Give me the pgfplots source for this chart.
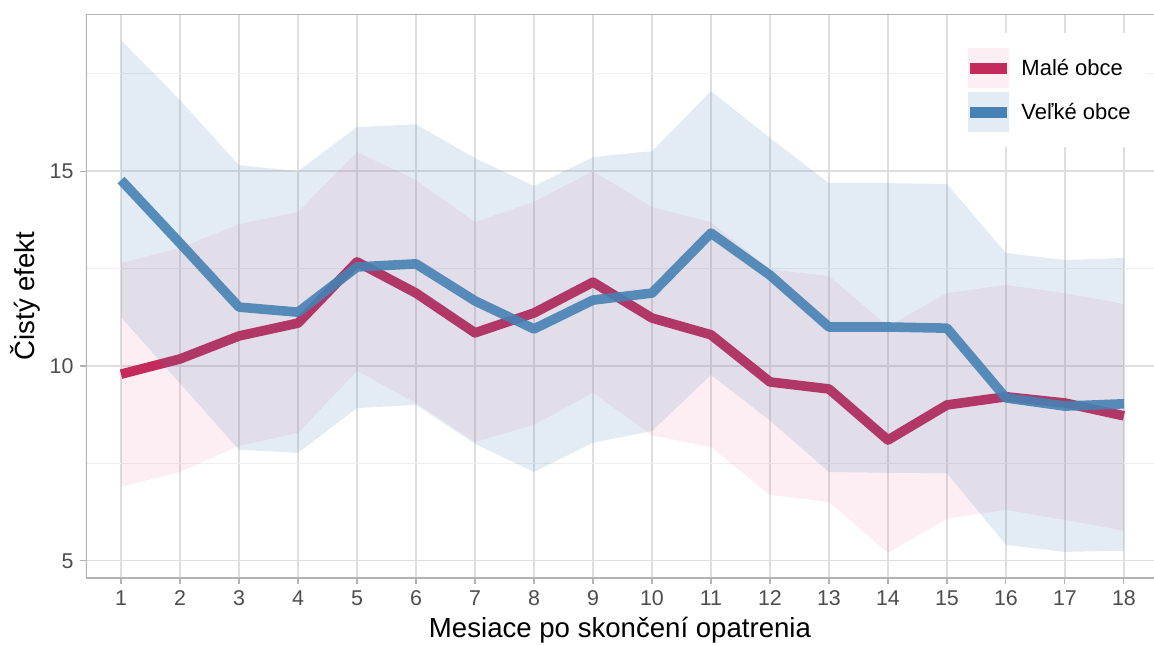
\documentclass[border=0pt]{standalone}
\usepackage{fontspec}
\setmainfont{Liberation Sans}
\usepackage{pgfplots}
\pgfplotsset{compat=1.18}
\definecolor{redline}{RGB}{196,42,90}
\definecolor{redfill}{RGB}{232,90,140}
\definecolor{blueline}{RGB}{70,130,180}
\definecolor{gridmajor}{RGB}{222,222,222}
\definecolor{gridminor}{RGB}{238,238,238}
\definecolor{axisgrey}{RGB}{179,179,179}
\definecolor{ticktext}{RGB}{77,77,77}
\definecolor{pinkbg}{RGB}{253,238,243}
\definecolor{bluebg}{RGB}{227,235,245}
\begin{document}
\begin{tikzpicture}
\begin{axis}[
  width=534pt, height=282pt, scale only axis,
  xmin=0.406, xmax=18.51, ymin=4.56, ymax=19.03,
  xtick={1,...,18}, ytick={5,10,15}, minor ytick={7.5,12.5,17.5},
  grid=both,
  major grid style={gridmajor, line width=0.6pt},
  minor grid style={gridminor, line width=0.5pt},
  axis line style={draw=none},
  tick align=outside, major tick length=2.75pt, minor tick length=0pt,
  tick style={axisgrey, line width=0.55pt},
  xtick pos=bottom, ytick pos=left,
  ticklabel style={font=\fontsize{10.7}{12}\selectfont, text=ticktext},
  /pgf/number format/assume math mode=true,
  xlabel={Mesiace po skončení opatrenia},
  ylabel={Čistý efekt},
  label style={font=\fontsize{13.8}{16}\selectfont},
  xlabel style={at={(axis description cs:0.5,-0.1046)}, anchor=base},
  ylabel style={at={(axis description cs:-0.0478,0.5)}, anchor=base},
  legend cell align=left,
  legend style={at={(0.8081,0.9663)}, anchor=north west, draw=none, fill=white,
    inner xsep=7.5pt, inner ysep=7.5pt, row sep=2pt,
    font=\fontsize{11}{13}\selectfont, nodes={inner sep=0pt},
    /tikz/every odd column/.append style={column sep=4.5pt}},
]
% red ribbon (Malé obce)
\addplot[draw=none, fill=redfill, fill opacity=0.1, forget plot] coordinates {
(1,12.64) (2,13.03) (3,13.64) (4,13.95) (5,15.49) (6,14.77) (7,13.69) (8,14.21) (9,15.00)
(10,14.08) (11,13.69) (12,12.48) (13,12.31) (14,11.02) (15,11.87) (16,12.08) (17,11.87) (18,11.59)
(18,5.77) (17,6.05) (16,6.31) (15,6.08) (14,5.20) (13,6.51) (12,6.69) (11,7.92) (10,8.22)
(9,9.31) (8,8.49) (7,8.05) (6,9.05) (5,9.87) (4,8.28) (3,7.95) (2,7.28) (1,6.90)} -- cycle;
% red line
\addplot[redline, line width=4.8pt, line join=round, line cap=butt,
  legend image code/.code={
    \path[fill=pinkbg, draw=none] (0pt,-10pt) rectangle (20.5pt,10pt);
    \draw[redline, line width=5.5pt, line cap=butt] (1pt,0pt) -- (19.5pt,0pt);}]
coordinates {
(1,9.79) (2,10.18) (3,10.77) (4,11.10) (5,12.67) (6,11.87) (7,10.85) (8,11.36) (9,12.15)
(10,11.23) (11,10.80) (12,9.59) (13,9.41) (14,8.10) (15,9.00) (16,9.21) (17,9.05) (18,8.72)};
\addlegendentry{Malé obce}
% blue ribbon (Veľké obce)
\addplot[draw=none, fill=blueline, fill opacity=0.15, forget plot] coordinates {
(1,18.36) (2,16.82) (3,15.15) (4,15.00) (5,16.13) (6,16.20) (7,15.33) (8,14.62) (9,15.36)
(10,15.51) (11,17.05) (12,15.85) (13,14.69) (14,14.69) (15,14.67) (16,12.90) (17,12.72) (18,12.77)
(18,5.26) (17,5.23) (16,5.41) (15,7.25) (14,7.26) (13,7.28) (12,8.60) (11,9.77) (10,8.33)
(9,8.03) (8,7.28) (7,8.00) (6,9.00) (5,8.92) (4,7.77) (3,7.85) (2,9.55) (1,11.25)} -- cycle;
% blue line
\addplot[blueline, draw opacity=0.9, line width=4.8pt, line join=round, line cap=butt,
  legend image code/.code={
    \path[fill=bluebg, draw=none] (0pt,-10pt) rectangle (20.5pt,10pt);
    \draw[blueline, draw opacity=1, line width=5.5pt, line cap=butt] (1pt,0pt) -- (19.5pt,0pt);}]
coordinates {
(1,14.77) (2,13.15) (3,11.51) (4,11.38) (5,12.54) (6,12.62) (7,11.67) (8,10.95) (9,11.69)
(10,11.87) (11,13.41) (12,12.33) (13,11.00) (14,11.00) (15,10.97) (16,9.18) (17,8.97) (18,9.03)};
\addlegendentry{Veľké obce}
\draw[axisgrey, line width=0.55pt] (rel axis cs:0,0) -- (rel axis cs:0,1) -- (rel axis cs:1,1);
\draw[axisgrey, line width=0.55pt] (rel axis cs:0,0) -- (rel axis cs:1,0);
\end{axis}
\pgfresetboundingbox
\path (current axis.south west) ++(-43pt,-33pt) rectangle ([yshift=7pt]current axis.north east);
\end{tikzpicture}
\end{document}
